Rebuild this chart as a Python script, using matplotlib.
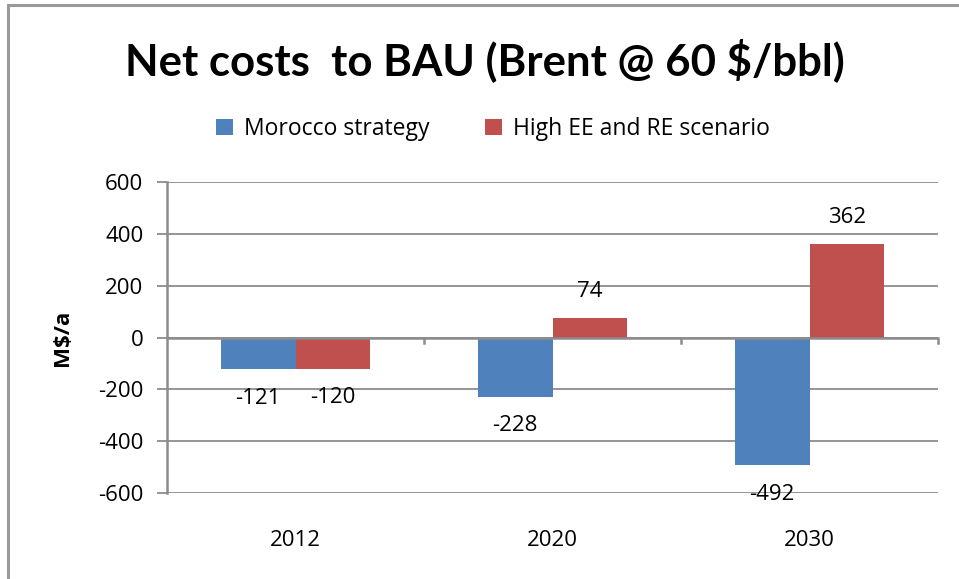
import matplotlib
matplotlib.use("Agg")
import matplotlib.pyplot as plt
from matplotlib.patches import Rectangle
import numpy as np

years = ["2012", "2020", "2030"]
series_names = ["Morocco strategy", "High EE and RE scenario"]
morocco = [-121, -228, -492]
high_ee_re = [-120, 74, 362]
y_ticks = [-600, -400, -200, 0, 200, 400, 600]

blue = "#4F81BD"
red = "#C0504D"
grid_col = "#8C8C8C"
body_font = ["Open Sans", "DejaVu Sans"]
title_font = ["Lato", "DejaVu Sans"]
plt.rcParams["font.family"] = body_font
fs = 16

fig = plt.figure(figsize=(9.59, 5.79), dpi=100)
W, H = 959, 579

# outer chart frame
fig.add_artist(Rectangle((8 / W, -0.1), 1.2, 1 - 5 / H + 0.1, transform=fig.transFigure,
                         fill=False, edgecolor="#9A9A9A", linewidth=2.2))

ax = fig.add_axes([167 / W, 1 - 493 / H, (938 - 167) / W, (493 - 182) / H])

x = np.arange(len(years))
bw = 0.29
b1 = ax.bar(x - bw / 2, morocco, bw, color=blue, label=series_names[0], zorder=3)
b2 = ax.bar(x + bw / 2, high_ee_re, bw, color=red, label=series_names[1], zorder=3)

ax.set_xlim(-0.5, len(years) - 0.5)
ax.set_ylim(-600, 600)
ax.set_yticks(y_ticks)
ax.set_yticklabels([str(v) for v in y_ticks], fontsize=fs)
ax.yaxis.grid(True, color=grid_col, linewidth=1.3, zorder=0)

for s in ["top", "right", "bottom"]:
    ax.spines[s].set_visible(False)
ax.spines["left"].set_color(grid_col)
ax.spines["left"].set_linewidth(1.8)
ax.tick_params(axis="y", length=7, width=1.3, color=grid_col, pad=10)

# category axis drawn on the zero line
ax.axhline(0, color=grid_col, linewidth=1.8, zorder=4)
for b in np.arange(0.5, len(years), 1.0):
    ax.plot([b, b], [0, -22], color=grid_col, linewidth=1.8, zorder=4, clip_on=False)
ax.set_xticks([])

# year labels below the plot area
for xi, yr in zip(x, years):
    ax.annotate(yr, xy=(xi, -600), xytext=(0, -34), textcoords="offset points",
                ha="center", va="center", fontsize=fs)

# value labels at the outside end of each bar
for bars, vals in ((b1, morocco), (b2, high_ee_re)):
    for r, v in zip(bars, vals):
        cx = r.get_x() + r.get_width() / 2
        off = 19 if v > 0 else -21
        ax.annotate(str(v), xy=(cx, v), xytext=(0, off), textcoords="offset points",
                    ha="center", va="center", fontsize=fs, zorder=5)

ax.set_ylabel("M$/a", fontsize=fs, fontweight="bold", labelpad=18)

fig.text(0.5 + 5 / W, 1 - 60 / H, "Net costs  to BAU (Brent @ 60 $/bbl)", ha="center",
         va="center", fontsize=31.5, fontweight="bold", family=title_font)

fig.legend(handles=[b1, b2], labels=series_names, loc="center",
           bbox_to_anchor=(493 / W, 1 - 129 / H), ncol=2, frameon=False,
           fontsize=16.5, handlelength=0.75, handleheight=0.75, handletextpad=0.5,
           columnspacing=2.4)

fig.savefig("out.png", dpi=100, facecolor="white")
